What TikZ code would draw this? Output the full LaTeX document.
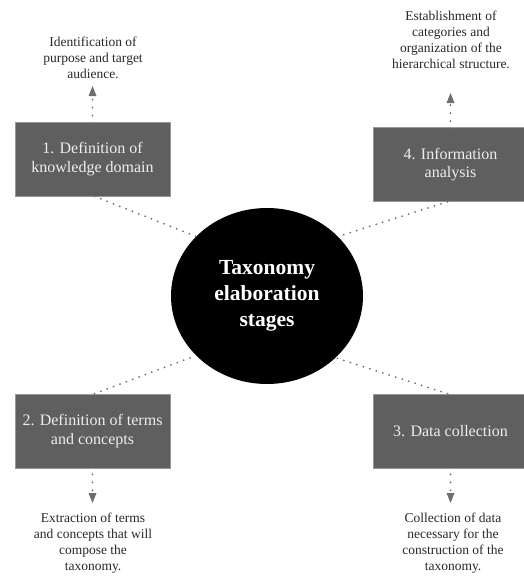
\documentclass[tikz,border=0pt]{standalone}
\usepackage{fontspec}
\setmainfont{Liberation Serif}
\usetikzlibrary{shapes.geometric,arrows.meta}
\definecolor{boxfill}{RGB}{95,95,95}
\definecolor{boxedge}{RGB}{150,150,150}
\definecolor{boxtext}{RGB}{238,238,238}
\definecolor{notetext}{RGB}{40,40,40}
\definecolor{dotcol}{RGB}{110,110,110}
\tikzset{
  stagebox/.style={rectangle, fill=boxfill, draw=boxedge, line width=0.6pt,
    minimum width=155pt, minimum height=74pt, inner sep=0pt,
    text=boxtext, align=center, font=\fontsize{16}{18.5}\selectfont},
  hub/.style={ellipse, fill=black, minimum width=192pt, minimum height=176pt,
    inner sep=0pt, text=white, align=center,
    font=\bfseries\fontsize{21.5}{26}\selectfont},
  note/.style={text=notetext, align=center, inner sep=0pt,
    font=\fontsize{13.5}{16}\selectfont},
  dotline/.style={draw=dotcol, line width=2pt, line cap=round,
    dash pattern=on 0pt off 6.8pt},
  dotarrow/.style={draw=dotcol, line width=2pt, line cap=round,
    dash pattern=on 0pt off 8pt,
    -{Triangle[width=8pt,length=10pt,line width=0pt,fill=dotcol]}}
}
\begin{document}
\begin{tikzpicture}[x=1pt,y=-1pt]
\useasboundingbox (0,0) rectangle (523,578);
\node[hub] (c) at (267,296) {Taxonomy\\elaboration\\stages};
\node[stagebox] (b1) at (92.5,159) {1. Definition of\\knowledge domain};
\node[stagebox] (b4) at (450.5,164.5) {4. Information\\analysis};
\node[stagebox] (b2) at (92.5,431) {2. Definition of terms\\and concepts};
\node[stagebox] (b3) at (450.5,431) {3. Data collection};
\node[note] (n1) at (93,58) {Identification of\\purpose and target\\audience.};
\node[note] (n4) at (451,40) {Establishment of\\categories and\\organization of the\\hierarchical structure.};
\node[note] (n2) at (93,543) {Extraction of terms\\and concepts that will\\compose the\\taxonomy.};
\node[note] (n3) at (453,543) {Collection of data\\necessary for the\\construction of the\\taxonomy.};
\coordinate (a1) at (92.5,86);
\coordinate (a4) at (450.5,93);
\coordinate (a2) at (92.5,503);
\coordinate (a3) at (450.5,503);
\draw[dotarrow] ([yshift=-2pt]b1.north) -- (a1);
\draw[dotarrow] ([yshift=-2pt]b4.north) -- (a4);
\draw[dotarrow] ([yshift=2pt]b2.south) -- (a2);
\draw[dotarrow] ([yshift=2pt]b3.south) -- (a3);
\draw[dotline] ([xshift=2pt]b1.south) -- (c.140);
\draw[dotline] ([xshift=-3pt]b4.south) -- (c.40);
\draw[dotline] ([xshift=2pt]b2.north) -- (c.220);
\draw[dotline] ([xshift=-3pt]b3.north) -- (c.318);
\end{tikzpicture}
\end{document}
